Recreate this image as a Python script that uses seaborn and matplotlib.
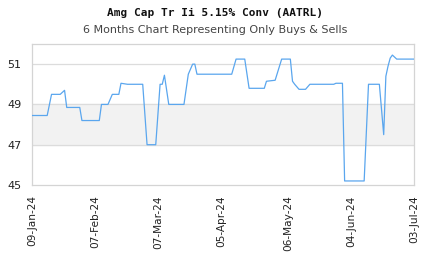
import matplotlib
matplotlib.use("Agg")
import matplotlib.pyplot as plt
import seaborn as sns
import pandas as pd

dates = ["2024-01-09", "2024-01-16", "2024-01-18", "2024-01-22", "2024-01-24", "2024-01-25",
         "2024-01-31", "2024-02-01", "2024-02-09", "2024-02-10", "2024-02-13", "2024-02-15",
         "2024-02-18", "2024-02-19", "2024-02-22", "2024-02-29", "2024-03-02", "2024-03-06",
         "2024-03-08", "2024-03-09", "2024-03-10", "2024-03-12", "2024-03-19", "2024-03-21",
         "2024-03-23", "2024-03-24", "2024-03-25", "2024-04-10", "2024-04-12", "2024-04-16",
         "2024-04-18", "2024-04-25", "2024-04-26", "2024-04-30", "2024-05-03", "2024-05-07",
         "2024-05-08", "2024-05-09", "2024-05-11", "2024-05-14", "2024-05-16", "2024-05-27",
         "2024-05-28", "2024-05-31", "2024-06-01", "2024-06-10", "2024-06-12", "2024-06-17",
         "2024-06-19", "2024-06-20", "2024-06-21", "2024-06-22", "2024-06-23", "2024-06-25",
         "2024-07-03"]
prices = [48.45, 48.45, 49.5, 49.5, 49.7, 48.85,
          48.85, 48.2, 48.2, 49.0, 49.0, 49.5,
          49.5, 50.05, 50.0, 50.0, 47.0, 47.0,
          50.0, 50.0, 50.45, 49.0, 49.0, 50.5,
          51.0, 51.0, 50.5, 50.5, 51.25, 51.25,
          49.8, 49.8, 50.15, 50.2, 51.25, 51.25,
          50.15, 50.0, 49.75, 49.75, 50.0, 50.0,
          50.05, 50.05, 45.2, 45.2, 50.0, 50.0,
          47.5, 50.4, 50.9, 51.3, 51.45, 51.25,
          51.25]
tick_dates = ["2024-01-09", "2024-02-07", "2024-03-07", "2024-04-05", "2024-05-06",
              "2024-06-04", "2024-07-03"]
y_ticks = [45, 47, 49, 51]
title = "Amg Cap Tr Ii 5.15% Conv (AATRL)"
subtitle = "6 Months Chart Representing Only Buys & Sells"

df = pd.DataFrame({"date": pd.to_datetime(dates), "price": prices})

sns.set_style("white")
fig = plt.figure(figsize=(4.3, 2.6), dpi=100)
ax = fig.add_axes([0.0744, 0.2885, 0.8886, 0.5423])

ax.axhspan(47, 49, color="#f2f2f2", zorder=0)
for yv in [47, 49, 51]:
    ax.axhline(yv, color="#dcdcdc", lw=0.9, zorder=1)

sns.lineplot(data=df, x="date", y="price", ax=ax, color="#5aa6ee", lw=0.9, zorder=3)

ax.set_xlim(pd.Timestamp("2024-01-09"), pd.Timestamp("2024-07-03"))
ax.set_ylim(45, 52)
ax.set_yticks(y_ticks)
ax.set_yticklabels([str(v) for v in y_ticks], fontsize=8, color="#222222")
td = pd.to_datetime(tick_dates)
ax.set_xticks(td)
ax.set_xticklabels([d.strftime("%d-%b-%y") for d in td], rotation=90, fontsize=7.6, color="#222222")
ax.tick_params(axis="y", length=0, pad=7.5)
ax.tick_params(axis="x", length=0, pad=7.5)
ax.set_xlabel("")
ax.set_ylabel("")
for s in ax.spines.values():
    s.set_color("#d4d4d4")
    s.set_linewidth(0.9)

fig.text(0.5, 1 - 13 / 260, title, ha="center", va="center", fontsize=8,
         fontweight="bold", family="DejaVu Sans Mono", color="#111111")
fig.text(0.5, 1 - 30 / 260, subtitle, ha="center", va="center", fontsize=8,
         color="#444444")

fig.savefig("out.png", dpi=100)
